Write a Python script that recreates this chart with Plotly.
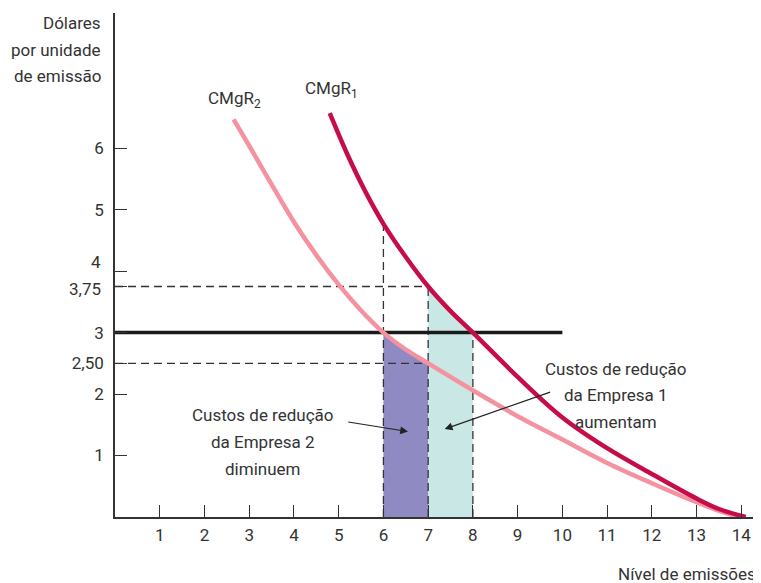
import plotly.graph_objects as go

# ---- data ----
cmgr1_x = [4.8, 5.2, 5.6, 6.0, 6.5, 7.0, 7.5, 8.0, 9.0, 10.0, 11.0, 12.0, 13.0, 13.5, 14.1]
cmgr1_y = [6.57, 5.89, 5.29, 4.77, 4.23, 3.75, 3.35, 3.0, 2.28, 1.62, 1.12, 0.7, 0.3, 0.13, 0.0]

cmgr2_x = [2.65, 3.0, 3.5, 4.0, 4.5, 5.0, 5.5, 6.0, 6.5, 7.0, 8.0, 9.0, 10.0, 11.0, 12.0, 13.0, 13.5, 13.95]
cmgr2_y = [6.47, 6.04, 5.41, 4.8, 4.26, 3.78, 3.36, 3.0, 2.725, 2.5, 2.06, 1.64, 1.26, 0.88, 0.55, 0.24, 0.1, 0.0]

tax_level = 3.0            # horizontal fee line
tax_x_end = 10.0
firm2_q = [6.0, 6.5, 7.0]   # Empresa 2 area bounds
firm2_c = [3.0, 2.725, 2.5]
firm1_q = [7.0, 7.5, 8.0]   # Empresa 1 area bounds
firm1_c = [3.75, 3.35, 3.0]

x_ticks = list(range(1, 15))
y_ticks = [1, 2, 2.5, 3, 3.75, 4, 5, 6]
y_tick_labels = ["1", "2", "2,50", "3", "3,75", "4", "5", "6"]

FONT = "Roboto, Liberation Sans Narrow, DejaVu Sans Condensed, sans-serif"
FS = 17
TXT = "#333333"
DASH = "#333333"

fig = go.Figure()

# shaded areas
fig.add_trace(go.Scatter(x=firm2_q, y=firm2_c, mode="lines", line=dict(width=0, shape="spline"),
                         fill="tozeroy", fillcolor="#8F8AC2", hoverinfo="skip"))
fig.add_trace(go.Scatter(x=firm1_q, y=firm1_c, mode="lines", line=dict(width=0, shape="spline"),
                         fill="tozeroy", fillcolor="#C9E7E5", hoverinfo="skip"))

# dashed guide lines
dash_style = dict(color=DASH, width=1.3, dash="8px,5px")
guides = [
    ([0, firm1_q[0]], [firm1_c[0], firm1_c[0]]),          # 3,75
    ([0, firm2_q[-1]], [firm2_c[-1], firm2_c[-1]]),        # 2,50
    ([firm2_q[0], firm2_q[0]], [0, cmgr1_y[cmgr1_x.index(6.0)]]),   # x = 6
    ([firm1_q[0], firm1_q[0]], [0, firm1_c[0]]),            # x = 7
    ([firm1_q[-1], firm1_q[-1]], [0, firm1_c[-1]]),         # x = 8
]
for gx, gy in guides:
    fig.add_trace(go.Scatter(x=gx, y=gy, mode="lines", line=dash_style, hoverinfo="skip"))

# fee line
fig.add_trace(go.Scatter(x=[0, tax_x_end], y=[tax_level, tax_level], mode="lines",
                         line=dict(color="#1a1a1a", width=3.5), hoverinfo="skip"))

# curves
fig.add_trace(go.Scatter(x=cmgr2_x, y=cmgr2_y, mode="lines",
                         line=dict(color="#F4929F", width=4.5, shape="spline", smoothing=1.0)))
fig.add_trace(go.Scatter(x=cmgr1_x, y=cmgr1_y, mode="lines",
                         line=dict(color="#C70C4A", width=4.5, shape="spline", smoothing=1.0)))

tf = dict(family=FONT, size=FS, color=TXT)
ann = []


def text_block(lines, x, y, xref, yref, xanchor="center", line_h=26.7):
    n = len(lines)
    for i, line in enumerate(lines):
        ann.append(dict(text=line, x=x, y=y, xref=xref, yref=yref, xanchor=xanchor,
                        yanchor="middle", yshift=((n - 1) / 2 - i) * line_h,
                        showarrow=False, font=tf))


ann.append(dict(text="CMgR<sub>2</sub>", x=2.68, y=6.79, xref="x", yref="y", showarrow=False, font=tf))
ann.append(dict(text="CMgR<sub>1</sub>", x=4.84, y=6.95, xref="x", yref="y", showarrow=False, font=tf))
text_block(["Custos de redução", "da Empresa 2", "diminuem"], 3.30, 1.22, "x", "y")
text_block(["Custos de redução", "da Empresa 1", "aumentam"], 11.19, 1.98, "x", "y")
# arrows
ann.append(dict(text="", x=6.55, y=1.39, ax=5.18, ay=1.55, xref="x", yref="y", axref="x", ayref="y",
                showarrow=True, arrowhead=2, arrowsize=1.3, arrowwidth=1.2, arrowcolor="#222222",
                standoff=0, startstandoff=0))
ann.append(dict(text="", x=7.37, y=1.43, ax=9.76, ay=2.04, xref="x", yref="y", axref="x", ayref="y",
                showarrow=True, arrowhead=2, arrowsize=1.3, arrowwidth=1.2, arrowcolor="#222222",
                standoff=0, startstandoff=0))
# axis titles
text_block(["Dólares", "por unidade", "de emissão"], -0.0186, 0.9266, "paper", "paper",
           xanchor="right", line_h=26.5)
ann.append(dict(text="Nível de emissões", x=0.995, y=-0.113, xref="paper", yref="paper",
                xanchor="right", yanchor="middle", showarrow=False, font=tf))

# y tick label "4" sits close to "3,75": draw it as a label nudged upward, like the reference
tick_text = list(y_tick_labels)
i4 = y_ticks.index(4)
i375 = y_ticks.index(3.75)
ann.append(dict(text=tick_text[i4], x=-0.0186, y=y_ticks[i4], xref="paper", yref="y",
                xanchor="right", yanchor="middle", yshift=9, showarrow=False, font=tf))
ann.append(dict(text=tick_text[i375], x=-0.0186, y=y_ticks[i375], xref="paper", yref="y",
                xanchor="right", yanchor="middle", yshift=-2, showarrow=False, font=tf))
tick_text[i4] = ""
tick_text[i375] = ""

# the page body adds an 8px offset, so the figure is 8px smaller and shifted accordingly
fig.update_layout(
    width=753, height=575,
    margin=dict(l=107, r=0, t=5, b=66, autoexpand=False),
    paper_bgcolor="white", plot_bgcolor="white",
    showlegend=False,
    annotations=ann,
    font=tf,
)
fig.update_xaxes(range=[0, 14.44], tickvals=x_ticks, ticktext=[str(v) for v in x_ticks],
                 showgrid=False, zeroline=False, showline=True, linecolor="#333333", linewidth=1.6,
                 ticks="inside", ticklen=12, tickwidth=1.3, tickcolor="#333333",
                 ticklabelstandoff=2, tickfont=tf)
fig.update_yaxes(range=[0, 8.2], tickvals=y_ticks, ticktext=tick_text,
                 showgrid=False, zeroline=False, showline=True, linecolor="#333333", linewidth=1.6,
                 ticks="inside", ticklen=12, tickwidth=1.3, tickcolor="#333333",
                 ticklabelstandoff=6, tickfont=tf)

fig.write_html("out.html")
